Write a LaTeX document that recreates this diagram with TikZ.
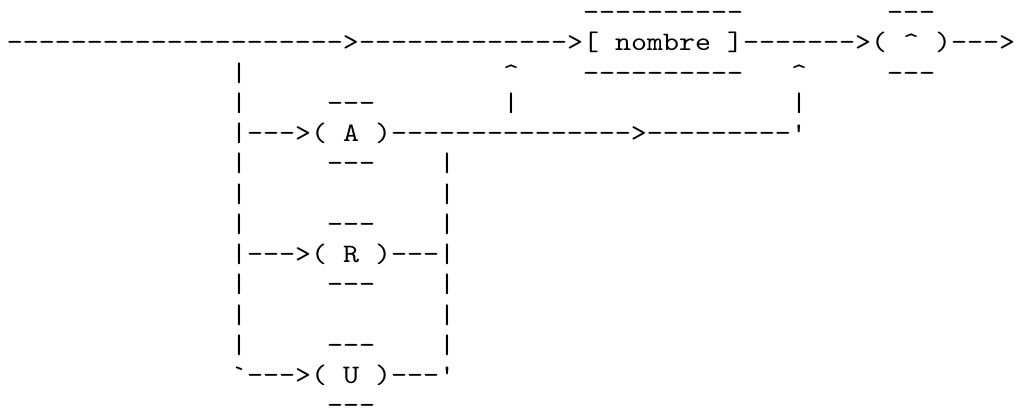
\documentclass[tikz,border=0pt]{standalone}
\usepackage{fontspec}
% Typewriter face, widened so one character cell is exactly 12pt at 20pt size
\setmonofont{lmmono10-regular.otf}[FakeStretch=1.142857]
\tikzset{
  run/.style={anchor=base west, inner sep=0pt, outer sep=0pt,
    font=\ttfamily\fontsize{20pt}{22pt}\selectfont, text=black},
}
% \glyphrun{name}{column}{row}{characters}: one run of text on the character grid
\newcommand\glyphrun[4]{%
  \node[run] (#1) at ({5.25pt+12pt*(#2)},{-15.5pt-22.6875pt*((#3)-1)}) {#4};}
\newcommand\caret{\textasciicircum}
\begin{document}
\begin{tikzpicture}
  \fill[white] (0,0) rectangle (763.5pt,-309pt);
  \useasboundingbox (0,0) rectangle (763.5pt,-309pt);
  % row 1: tops of the boxes
  \glyphrun{nombreTop}{36}{1}{----------}
  \glyphrun{caretTop}{55}{1}{---}
  % row 2: main line
  \glyphrun{entry}{0}{2}{--------------------->}
  \glyphrun{toNombre}{22}{2}{------------->}
  \glyphrun{nombre}{36}{2}{[ nombre ]}
  \glyphrun{toCaret}{46}{2}{------->}
  \glyphrun{caretBox}{54}{2}{( \caret{} )}
  \glyphrun{exit}{59}{2}{--->}
  % row 3
  \glyphrun{splitA}{14}{3}{|}
  \glyphrun{joinLeftTip}{31}{3}{\caret}
  \glyphrun{nombreBottom}{36}{3}{----------}
  \glyphrun{joinRightTip}{49}{3}{\caret}
  \glyphrun{caretBottom}{55}{3}{---}
  % row 4
  \glyphrun{splitB}{14}{4}{|}
  \glyphrun{aTop}{20}{4}{---}
  \glyphrun{joinLeft}{31}{4}{|}
  \glyphrun{joinRight}{49}{4}{|}
  % row 5: branch A
  \glyphrun{branchA}{14}{5}{|--->( A )--------------->---------'}
  % rows 6-8
  \glyphrun{splitC}{14}{6}{|}
  \glyphrun{aBottom}{20}{6}{---}
  \glyphrun{mergeA}{27}{6}{|}
  \glyphrun{splitD}{14}{7}{|}
  \glyphrun{mergeB}{27}{7}{|}
  \glyphrun{splitE}{14}{8}{|}
  \glyphrun{rTop}{20}{8}{---}
  \glyphrun{mergeC}{27}{8}{|}
  % row 9: branch R
  \glyphrun{branchR}{14}{9}{|--->( R )---|}
  % rows 10-12
  \glyphrun{splitF}{14}{10}{|}
  \glyphrun{rBottom}{20}{10}{---}
  \glyphrun{mergeD}{27}{10}{|}
  \glyphrun{splitG}{14}{11}{|}
  \glyphrun{mergeE}{27}{11}{|}
  \glyphrun{splitH}{14}{12}{|}
  \glyphrun{uTop}{20}{12}{---}
  \glyphrun{mergeF}{27}{12}{|}
  % row 13: branch U
  \glyphrun{branchU}{14}{13}{`--->( U )---'}
  % row 14
  \glyphrun{uBottom}{20}{14}{---}
\end{tikzpicture}
\end{document}
